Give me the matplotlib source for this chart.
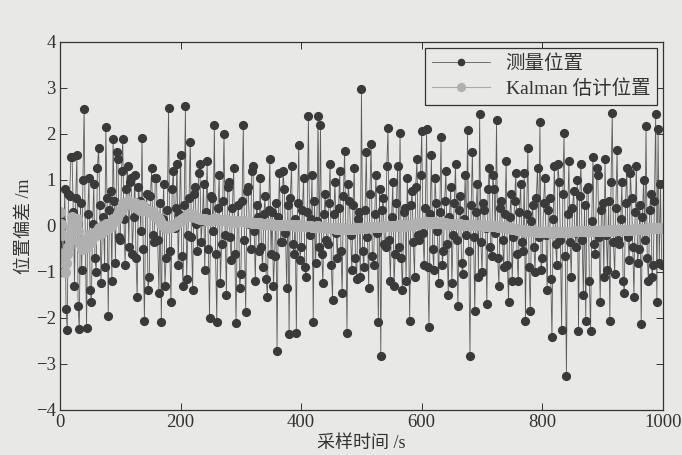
import numpy as np
import matplotlib
matplotlib.use('Agg')
import matplotlib.pyplot as plt

plt.rcParams['font.family'] = ['Liberation Serif', 'Noto Sans CJK SC']

# sampling times (every 2nd sample shown)
t = np.arange(0, 1000, 2)

# measured position deviation, one row per 40 s
measured = [
    0.30, 0.10, -1.00, -0.40, 0.80, -1.80, -2.27, 0.70, 0.65, 1.50, 1.50, 0.30, -1.30, 0.60, 1.55, -1.75, -2.25, 0.50, -0.95, 1.00,
    2.55, -0.35, -2.22, 0.25, 1.05, -1.40, -1.65, 0.05, 0.90, -0.70, -1.00, 1.25, 1.70, 0.45, -1.25, -0.15, 0.20, -0.90, 2.16, 0.60,
    -1.95, 0.35, 0.75, -1.20, 1.88, 0.55, -0.80, 1.60, 1.45, -0.25, -0.30, 1.20, 1.88, 0.15, -0.85, 0.80, 1.30, -0.45, 0.95, 1.05,
    -0.60, 0.20, 1.10, -0.70, -1.55, 0.85, 0.55, -0.10, 1.90, -0.50, -2.07, 0.40, 0.70, -1.40, -1.10, 0.65, 1.25, -0.20, -0.35, 1.05,
    1.05, -0.30, -1.45, 0.50, -2.08, 0.15, 0.90, -1.30, -0.70, 0.35, 2.57, -0.55, -1.65, 0.80, 1.20, -0.05, 0.40, 1.35, -0.85, 0.25,
    1.55, -0.65, -1.30, 0.45, 2.60, -1.15, -0.20, 0.60, 1.83, -0.25, -1.40, 0.70, 0.85, 0.05, -0.55, 1.15, 1.35, -0.35, 0.10, 0.90,
    -0.95, 0.30, 1.40, -0.50, -2.00, 0.65, 0.60, -0.10, 2.19, -0.60, -2.09, 0.40, 1.10, -1.25, -0.40, 0.55, 1.99, -0.20, -1.50, 0.85,
    0.95, -0.25, -0.75, 0.40, 1.25, -0.60, -2.12, 0.10, 0.45, -1.35, -1.05, 0.55, 2.19, -0.30, -1.88, 0.75, 0.85, 0.05, -0.50, 1.20,
    1.30, -0.10, -1.20, 0.45, 0.20, -0.55, 1.05, -0.45, -0.90, 0.25, 0.65, -1.15, -1.55, 0.35, 1.45, -0.60, 0.30, -1.30, -0.65, 0.50,
    -2.72, 0.20, 1.15, -0.35, -0.35, 1.20, 0.80, -0.15, -1.35, 0.45, -2.35, 0.60, 1.30, -0.40, -0.60, 0.15, -2.32, 0.50, 1.75, -0.75,
    -0.45, 0.35, 1.05, -0.90, -1.10, 0.30, 2.38, -0.20, 0.15, 1.10, -2.09, 0.55, -0.80, 0.10, 2.38, -0.45, 2.20, -0.60, -1.25, 0.25,
    0.70, -0.30, -0.40, 0.50, 1.35, -0.85, -1.60, 0.25, 0.95, -0.15, -0.70, 0.40, 1.20, -0.55, -1.45, 0.65, 1.62, -0.05, -2.32, 0.90,
    0.55, -0.20, -0.95, 0.45, 1.25, -0.70, -1.15, 0.15, 0.30, -1.10, 2.98, -0.55, -0.90, 0.35, 1.60, -0.25, -1.35, 0.70, 1.78, -0.65,
    -0.85, 0.25, 1.10, -0.15, -2.08, 0.80, -2.83, 0.35, 0.60, -0.40, -0.45, 1.30, 2.12, -0.30, -1.20, 0.20, 0.95, -1.30, -0.60, 0.50,
    1.30, -0.45, 2.03, -0.70, -1.40, 0.30, 0.40, -1.20, 1.05, 0.05, -2.07, 0.45, 0.75, -0.35, -1.10, 0.85, 1.45, -0.20, -0.30, 1.10,
    2.07, -0.15, -0.85, 0.40, 2.10, -0.90, -2.19, 0.25, 1.55, -0.50, -0.95, 1.05, 0.50, -0.10, -1.25, 0.30, 1.93, -0.85, -0.55, 0.55,
    1.20, -0.40, -1.50, 0.20, 0.85, -1.25, -0.20, 0.50, 1.35, -0.30, -1.75, 0.35, 0.65, -0.80, -1.05, 0.15, 1.10, -0.20, 2.08, -0.55,
    -2.83, 0.45, 1.60, -0.25, -1.85, 0.30, 0.90, -1.10, 2.43, -0.35, -1.00, 0.50, 0.35, -0.05, -1.70, 0.80, 1.25, -0.45, -0.65, 1.10,
    0.80, -0.15, 2.30, -0.70, -1.30, 0.40, 0.55, -0.30, -0.90, 0.25, 1.40, -0.85, -1.65, 0.20, 0.70, -1.20, -0.25, 0.55, 1.15, -0.60,
    -1.20, 0.30, 0.90, -0.35, -0.55, 1.15, -2.07, 0.25, 1.70, -0.90, -1.85, 0.10, 0.45, -0.45, -1.00, 0.60, 1.25, -0.25, 2.25, -0.95,
    -0.70, 0.50, 1.05, -0.20, -1.40, 0.35, 0.60, -1.15, -2.42, 0.15, 1.30, -0.40, -0.85, 1.35, 0.95, -0.30, -2.26, 0.70, 2.01, -0.65,
    -3.26, 0.25, 1.40, -0.35, -1.10, 0.40, 0.75, -0.15, -0.45, 1.00, -2.28, 0.65, 1.35, -0.30, -1.50, 0.45, -2.07, 0.80, 0.85, -1.20,
    -2.28, 0.10, 1.50, -0.40, -0.60, 1.25, 1.10, -0.25, -1.65, 0.35, 0.50, -1.10, 1.45, -0.20, -0.95, 0.55, -2.07, 0.95, 2.46, -0.35,
    -1.05, 0.40, 1.65, -0.30, -0.40, 0.15, 0.95, -1.20, -1.45, 0.50, 1.25, -0.25, -0.75, 1.15, 0.60, -0.45, -1.55, 0.30, 1.30, -0.80,
    -0.50, 0.45, -2.14, 0.20, 1.00, -0.30, 2.17, -0.70, -1.20, 0.35, 0.70, -1.10, -0.85, 0.55, 2.43, -1.65, 2.10, -0.80, 0.90, -0.85,
]

# Kalman estimate
kalman = [
    0.30, 0.05, -0.20, -0.60, -1.00, -0.80, -0.60, -0.45, -0.30, -0.05, 0.20, 0.05, -0.10, 0.05, 0.15, -0.10, -0.35, -0.40, -0.50, -0.40,
    -0.30, -0.40, -0.45, -0.30, -0.20, -0.30, -0.35, -0.25, -0.15, -0.20, -0.20, -0.10, -0.05, -0.10, -0.15, -0.10, -0.10, 0.00, 0.05, 0.00,
    -0.05, -0.02, 0.00, 0.08, 0.15, 0.12, 0.10, 0.18, 0.25, 0.28, 0.30, 0.40, 0.50, 0.48, 0.45, 0.50, 0.55, 0.52, 0.50, 0.48,
    0.45, 0.48, 0.50, 0.45, 0.40, 0.38, 0.35, 0.40, 0.45, 0.40, 0.35, 0.35, 0.35, 0.32, 0.30, 0.30, 0.30, 0.28, 0.25, 0.22,
    0.20, 0.18, 0.15, 0.10, 0.05, 0.02, 0.00, -0.03, -0.05, -0.02, 0.00, -0.01, -0.02, 0.00, 0.02, 0.03, 0.05, 0.06, 0.08, 0.10,
    0.12, 0.14, 0.15, 0.18, 0.20, 0.21, 0.22, 0.24, 0.25, 0.24, 0.22, 0.21, 0.20, 0.19, 0.18, 0.17, 0.16, 0.16, 0.15, 0.15,
    0.14, 0.13, 0.13, 0.12, 0.12, 0.12, 0.13, 0.14, 0.15, 0.14, 0.14, 0.13, 0.13, 0.13, 0.12, 0.12, 0.13, 0.12, 0.12, 0.11,
    0.11, 0.10, 0.10, 0.10, 0.10, 0.09, 0.09, 0.10, 0.10, 0.10, 0.10, 0.11, 0.11, 0.10, 0.09, 0.08, 0.08, 0.08, 0.08, 0.07,
    0.07, 0.07, 0.07, 0.06, 0.06, 0.06, 0.06, 0.05, 0.05, 0.05, 0.05, 0.05, 0.05, 0.04, 0.04, 0.04, 0.04, 0.03, 0.03, 0.03,
    0.02, 0.02, 0.02, 0.03, 0.03, 0.02, 0.02, 0.01, 0.01, 0.01, 0.01, 0.02, 0.02, 0.01, 0.01, 0.00, 0.00, 0.01, 0.01, 0.00,
    0.00, 0.00, 0.00, -0.01, -0.01, 0.00, 0.00, -0.01, -0.01, -0.02, -0.02, -0.02, -0.02, -0.01, -0.01, -0.02, -0.02, -0.03, -0.03, -0.03,
    -0.03, -0.04, -0.04, -0.04, -0.04, -0.05, -0.05, -0.05, -0.05, -0.06, -0.06, -0.06, -0.06, -0.05, -0.05, -0.06, -0.06, -0.07, -0.07, -0.07,
    -0.07, -0.06, -0.06, -0.06, -0.06, -0.05, -0.05, -0.05, -0.05, -0.04, -0.04, -0.05, -0.05, -0.04, -0.04, -0.03, -0.03, -0.03, -0.03, -0.02,
    -0.02, -0.02, -0.02, -0.03, -0.03, -0.03, -0.03, -0.02, -0.02, -0.01, -0.01, -0.01, -0.01, 0.00, 0.00, -0.01, -0.01, 0.00, 0.00, 0.00,
    0.00, 0.01, 0.01, 0.01, 0.01, 0.00, 0.00, 0.01, 0.01, 0.02, 0.02, 0.03, 0.03, 0.04, 0.04, 0.05, 0.05, 0.06, 0.06, 0.07,
    0.07, 0.07, 0.07, 0.08, 0.08, 0.08, 0.08, 0.07, 0.07, 0.08, 0.08, 0.07, 0.07, 0.07, 0.07, 0.06, 0.06, 0.06, 0.06, 0.06,
    0.06, 0.05, 0.05, 0.05, 0.05, 0.05, 0.05, 0.04, 0.04, 0.04, 0.04, 0.04, 0.04, 0.03, 0.03, 0.03, 0.03, 0.03, 0.03, 0.02,
    0.02, 0.02, 0.02, 0.02, 0.02, 0.01, 0.01, 0.01, 0.01, 0.01, 0.01, 0.00, 0.00, 0.00, 0.00, 0.00, 0.00, -0.01, -0.01, -0.01,
    -0.01, -0.01, -0.01, -0.02, -0.02, -0.02, -0.02, -0.03, -0.03, -0.03, -0.03, -0.04, -0.04, -0.05, -0.05, -0.06, -0.06, -0.07, -0.07, -0.08,
    -0.08, -0.08, -0.08, -0.09, -0.09, -0.10, -0.10, -0.10, -0.10, -0.11, -0.11, -0.12, -0.12, -0.12, -0.12, -0.13, -0.13, -0.13, -0.13, -0.13,
    -0.13, -0.14, -0.14, -0.14, -0.14, -0.14, -0.14, -0.15, -0.15, -0.15, -0.14, -0.14, -0.14, -0.14, -0.13, -0.13, -0.13, -0.13, -0.13, -0.14,
    -0.14, -0.14, -0.13, -0.13, -0.13, -0.13, -0.12, -0.12, -0.12, -0.12, -0.12, -0.12, -0.11, -0.11, -0.11, -0.11, -0.11, -0.11, -0.10, -0.10,
    -0.11, -0.11, -0.10, -0.10, -0.10, -0.10, -0.10, -0.10, -0.11, -0.11, -0.10, -0.10, -0.10, -0.10, -0.09, -0.10, -0.10, -0.10, -0.09, -0.09,
    -0.09, -0.09, -0.09, -0.09, -0.08, -0.08, -0.08, -0.09, -0.09, -0.09, -0.08, -0.08, -0.08, -0.08, -0.08, -0.08, -0.07, -0.07, -0.07, -0.07,
    -0.07, -0.07, -0.06, -0.06, -0.06, -0.06, -0.06, -0.06, -0.05, -0.05, -0.05, -0.05, -0.05, -0.05, -0.05, -0.05, -0.04, -0.04, -0.04, -0.04,
]

xticks = [0, 200, 400, 600, 800, 1000]
yticks = [-4, -3, -2, -1, 0, 1, 2, 3, 4]
ytick_labels = ['\u22124', '\u22123', '\u22122', '\u22121', '0', '1', '2', '3', '4']

bg = '#e8e8e6'
ink = '#333333'
fig = plt.figure(figsize=(6.82, 4.55), dpi=100, facecolor=bg)
ax = fig.add_axes([0.088, 0.099, 0.884, 0.809], facecolor=bg)

ax.plot(t, measured, '-o', color='#5c5c5c', lw=0.6, ms=5.6,
        mfc='#3a3a3a', mec='#3a3a3a', label='测量位置')
ax.plot(t, kalman, '-o', color='#a8a8a8', lw=0.8, ms=7.0,
        mfc='#b0b0b0', mec='#b0b0b0', label='Kalman 估计位置')

ax.set_xlim(0, 1000)
ax.set_ylim(-4, 4)
ax.set_xticks(xticks)
ax.set_yticks(yticks)
ax.set_yticklabels(ytick_labels)
ax.tick_params(direction='in', top=True, right=True, length=5, width=0.7,
               colors=ink, labelsize=13.5, pad=3)
for s in ax.spines.values():
    s.set_color(ink)
    s.set_linewidth(0.9)

ax.set_xlabel('采样时间 /s', fontsize=13, color=ink, labelpad=3)
ax.set_ylabel('位置偏差 /m', fontsize=13, color=ink, labelpad=2)

leg = ax.legend(loc='upper right', fontsize=14, frameon=True, fancybox=False,
                handlelength=3.0, borderaxespad=0.3, labelspacing=0.3,
                borderpad=0.35, markerscale=0.8)
leg.get_frame().set_edgecolor(ink)
leg.get_frame().set_facecolor(bg)
leg.get_frame().set_alpha(1)
leg.get_frame().set_linewidth(0.9)
for txt in leg.get_texts():
    txt.set_color(ink)

fig.savefig('out.png', dpi=100, facecolor=bg)
